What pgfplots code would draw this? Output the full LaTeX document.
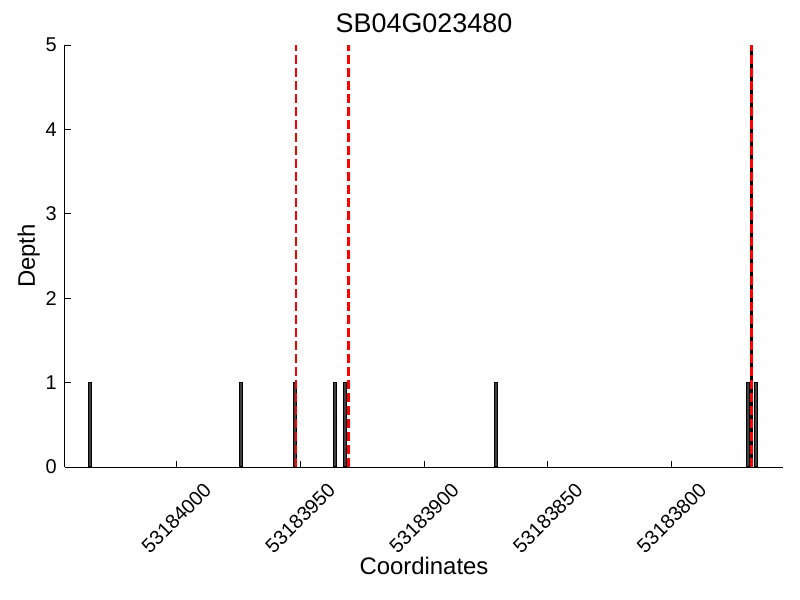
\documentclass[border=0pt]{standalone}
\usepackage{fontspec}
\setmainfont{Liberation Sans}
\usepackage{pgfplots}
\pgfplotsset{compat=1.18}
\begin{document}
\begin{tikzpicture}
\useasboundingbox (0,0) rectangle (800bp,600bp);
\begin{axis}[
  at={(65bp,133bp)}, anchor=south west,
  scale only axis, width=718bp, height=422bp,
  x dir=reverse, xmin=-145, xmax=145, ymin=0, ymax=5,
  axis lines*=left, axis line style={line width=1bp},
  tick align=inside, major tick length=6bp,
  tick style={black, line width=0.8bp},
  xtick={100,50,0,-50,-100},
  xticklabels={53184000,53183950,53183900,53183850,53183800},
  ytick={0,1,2,3,4,5},
  /pgf/number format/assume math mode=true,
  tick label style={font=\fontsize{20}{24}\selectfont},
  xticklabel style={yshift=-51bp, rotate=45, anchor=center, inner sep=0pt},
  yticklabel style={anchor=east, inner sep=0pt, xshift=-8bp},
  title={SB04G023480},
  title style={at={(axis description cs:0.5,1)}, anchor=south, inner sep=0pt, yshift=6bp, font=\fontsize{27}{32}\selectfont},
  xlabel={Coordinates},
  xlabel style={at={(axis description cs:0.5,0)}, anchor=north, inner sep=0pt, yshift=-90bp, font=\fontsize{24}{29}\selectfont},
  ylabel={Depth},
  ylabel style={at={(axis description cs:-0.0348,0.5)}, anchor=south, inner sep=0pt, font=\fontsize{24}{29}\selectfont},
]
\addplot[ybar, bar width=1.3, fill=black!75, draw=black, line width=1.2bp] coordinates {
  (135,1) (74,1) (52,1) (36,1) (32,1) (-29,1) (-131,1) (-134,1)
};
\addplot[black, line width=2.5bp] coordinates {(-132.3,0) (-132.3,5)};
\addplot[red, line width=2.5bp, dash pattern=on 9bp off 4bp] coordinates {(51.6,0) (51.6,5)};
\addplot[red, line width=2.5bp, dash pattern=on 9bp off 4bp] coordinates {(30.5,0) (30.5,5)};
\addplot[red, line width=2.5bp, dash pattern=on 9bp off 4bp] coordinates {(-132.3,0) (-132.3,5)};
\end{axis}
\end{tikzpicture}
\end{document}
